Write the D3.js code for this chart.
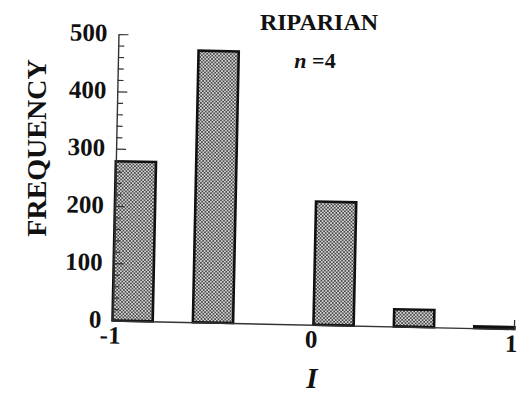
<!DOCTYPE html>
<html>
<head>
<meta charset="utf-8">
<script src="https://cdn.jsdelivr.net/npm/d3@7"></script>
<style>
  html, body { margin: 0; padding: 0; background: #fff; }
  svg { display: block; font-family: "Liberation Serif", "Times New Roman", serif; font-weight: bold; }
</style>
</head>
<body>
<svg id="chart" width="526" height="405"></svg>
<script>
// Histogram of Moran's I, bins of width 0.2 on [-1, 1]
const binStarts = [-1, -0.8, -0.6, -0.4, -0.2, 0, 0.2, 0.4, 0.6, 0.8];
const frequency = [278, 0, 474, 0, 0, 215, 0, 30, 0, 3];
const binWidth = 0.2;
const yTicks = [0, 100, 200, 300, 400, 500];
const xTickLabels = ["-1", "0", "1"];
const xTickValues = [-1, 0, 1];
const title = "RIPARIAN";
const sampleSize = "4";

const svg = d3.select("#chart");

// fine checker fill for the bars
const defs = svg.append("defs");
const pat = defs.append("pattern")
  .attr("id", "checker")
  .attr("width", 3.4).attr("height", 3.4)
  .attr("patternUnits", "userSpaceOnUse");
pat.append("rect").attr("width", 3.4).attr("height", 3.4).attr("fill", "#d6d6d6");
pat.append("rect").attr("width", 1.7).attr("height", 1.7).attr("fill", "#4a4a4a");
pat.append("rect").attr("x", 1.7).attr("y", 1.7).attr("width", 1.7).attr("height", 1.7).attr("fill", "#4a4a4a");

const x0 = 112.5, x1 = 514.5, yBase = 320.5, yTop = 34;
const x = d3.scaleLinear().domain([-1, 1]).range([x0, x1]);
const y = d3.scaleLinear().domain([0, 500]).range([yBase, yTop]);

// the plot sits slightly rotated about its origin
const plot = svg.append("g").attr("transform", `rotate(1.2, ${x0}, ${yBase})`);

const bins = binStarts.map((b, i) => ({ start: b, value: frequency[i] })).filter(d => d.value > 0);

plot.selectAll("rect.bar")
  .data(bins)
  .enter().append("rect")
  .attr("class", "bar")
  .attr("x", d => x(d.start))
  .attr("width", d => x(d.start + binWidth) - x(d.start))
  .attr("y", d => y(d.value))
  .attr("height", d => y(0) - y(d.value))
  .attr("fill", "url(#checker)")
  .attr("stroke", "#111")
  .attr("stroke-width", 2.6);

// y axis with inward ticks, minor every 20
const yAxis = d3.axisRight(y)
  .tickValues(d3.range(0, 501, 20))
  .tickSize(0)
  .tickFormat("");
const yg = plot.append("g").attr("transform", `translate(${x0},0)`).call(yAxis);
yg.select(".domain").attr("stroke", "#333").attr("stroke-width", 1.4);
yg.selectAll(".tick line")
  .attr("x2", d => (d % 100 === 0 ? 10 : 6))
  .attr("stroke", "#333").attr("stroke-width", 1.2);
yg.selectAll(".tick").filter(d => d === 0).select("line").remove();

plot.selectAll("text.ylab")
  .data(yTicks)
  .enter().append("text")
  .attr("class", "ylab")
  .attr("x", x0 - 11)
  .attr("y", d => y(d))
  .attr("dy", "0.3em")
  .attr("text-anchor", "end")
  .attr("font-size", 25)
  .attr("fill", "#111")
  .text(d => d);

// x axis
const xAxis = d3.axisBottom(x).tickValues([]).tickSizeOuter(0);
const xg = plot.append("g").attr("transform", `translate(0,${yBase})`).call(xAxis);
xg.select(".domain").attr("stroke", "#333").attr("stroke-width", 1.4);
plot.append("line")
  .attr("x1", x(1)).attr("x2", x(1))
  .attr("y1", yBase).attr("y2", yBase - 9)
  .attr("stroke", "#333").attr("stroke-width", 1.3);

plot.selectAll("text.xlab")
  .data(xTickValues)
  .enter().append("text")
  .attr("class", "xlab")
  .attr("x", (d, i) => x(d) - (i === 0 ? 2 : i === 1 ? 2 : 3))
  .attr("y", yBase + 23)
  .attr("text-anchor", "middle")
  .attr("font-size", 25)
  .attr("fill", "#111")
  .text((d, i) => xTickLabels[i]);

// titles and axis labels
svg.append("text")
  .attr("x", 319).attr("y", 30)
  .attr("text-anchor", "middle")
  .attr("font-size", 24)
  .attr("fill", "#111")
  .text(title);

const nLab = svg.append("text")
  .attr("x", 315).attr("y", 68)
  .attr("text-anchor", "middle")
  .attr("font-size", 22)
  .attr("fill", "#111");
nLab.append("tspan").attr("font-style", "italic").text("n");
nLab.append("tspan").text(" =" + sampleSize);

svg.append("text")
  .attr("transform", "translate(46,148) rotate(-90)")
  .attr("text-anchor", "middle")
  .attr("font-size", 28)
  .attr("fill", "#111")
  .text("FREQUENCY");

svg.append("text")
  .attr("x", 312).attr("y", 388)
  .attr("text-anchor", "middle")
  .attr("font-size", 29)
  .attr("font-style", "italic")
  .attr("fill", "#111")
  .text("I");
</script>
</body>
</html>
